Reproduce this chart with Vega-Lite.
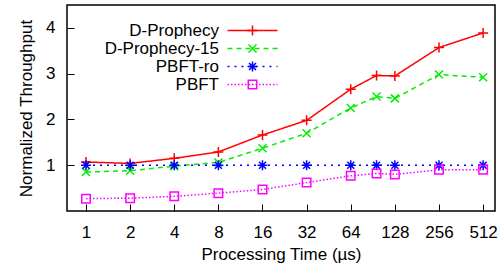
{
  "$schema": "https://vega.github.io/schema/vega-lite/v6.json",
  "width": 428,
  "height": 206,
  "autosize": "none",
  "padding": {"left": 67, "top": 5, "right": 5, "bottom": 56},
  "background": "white",
  "data": {"values": [
    {"t": 1, "series": "D-Prophecy", "marker": "D-Prophecy", "order": 0, "value": 1.07},
    {"t": 2, "series": "D-Prophecy", "marker": "D-Prophecy", "order": 0, "value": 1.04},
    {"t": 4, "series": "D-Prophecy", "marker": "D-Prophecy", "order": 0, "value": 1.15},
    {"t": 8, "series": "D-Prophecy", "marker": "D-Prophecy", "order": 0, "value": 1.29},
    {"t": 16, "series": "D-Prophecy", "marker": "D-Prophecy", "order": 0, "value": 1.66},
    {"t": 32, "series": "D-Prophecy", "marker": "D-Prophecy", "order": 0, "value": 1.98},
    {"t": 64, "series": "D-Prophecy", "marker": "D-Prophecy", "order": 0, "value": 2.66},
    {"t": 96, "series": "D-Prophecy", "marker": "D-Prophecy", "order": 0, "value": 2.96},
    {"t": 128, "series": "D-Prophecy", "marker": "D-Prophecy", "order": 0, "value": 2.95},
    {"t": 256, "series": "D-Prophecy", "marker": "D-Prophecy", "order": 0, "value": 3.57},
    {"t": 512, "series": "D-Prophecy", "marker": "D-Prophecy", "order": 0, "value": 3.89},
    {"t": 1, "series": "D-Prophecy-15", "marker": "D-Prophecy-15", "order": 1, "value": 0.85},
    {"t": 2, "series": "D-Prophecy-15", "marker": "D-Prophecy-15", "order": 1, "value": 0.88},
    {"t": 4, "series": "D-Prophecy-15", "marker": "D-Prophecy-15", "order": 1, "value": 0.98},
    {"t": 8, "series": "D-Prophecy-15", "marker": "D-Prophecy-15", "order": 1, "value": 1.06},
    {"t": 16, "series": "D-Prophecy-15", "marker": "D-Prophecy-15", "order": 1, "value": 1.37},
    {"t": 32, "series": "D-Prophecy-15", "marker": "D-Prophecy-15", "order": 1, "value": 1.70},
    {"t": 64, "series": "D-Prophecy-15", "marker": "D-Prophecy-15", "order": 1, "value": 2.25},
    {"t": 96, "series": "D-Prophecy-15", "marker": "D-Prophecy-15", "order": 1, "value": 2.50},
    {"t": 128, "series": "D-Prophecy-15", "marker": "D-Prophecy-15", "order": 1, "value": 2.46},
    {"t": 256, "series": "D-Prophecy-15", "marker": "D-Prophecy-15", "order": 1, "value": 2.98},
    {"t": 512, "series": "D-Prophecy-15", "marker": "D-Prophecy-15", "order": 1, "value": 2.92},
    {"t": 1, "series": "PBFT-ro", "marker": "PBFT-ro", "order": 2, "value": 1.0},
    {"t": 2, "series": "PBFT-ro", "marker": "PBFT-ro", "order": 2, "value": 1.0},
    {"t": 4, "series": "PBFT-ro", "marker": "PBFT-ro", "order": 2, "value": 1.0},
    {"t": 8, "series": "PBFT-ro", "marker": "PBFT-ro", "order": 2, "value": 1.0},
    {"t": 16, "series": "PBFT-ro", "marker": "PBFT-ro", "order": 2, "value": 1.0},
    {"t": 32, "series": "PBFT-ro", "marker": "PBFT-ro", "order": 2, "value": 1.0},
    {"t": 64, "series": "PBFT-ro", "marker": "PBFT-ro", "order": 2, "value": 1.0},
    {"t": 96, "series": "PBFT-ro", "marker": "PBFT-ro", "order": 2, "value": 1.0},
    {"t": 128, "series": "PBFT-ro", "marker": "PBFT-ro", "order": 2, "value": 1.0},
    {"t": 256, "series": "PBFT-ro", "marker": "PBFT-ro", "order": 2, "value": 1.0},
    {"t": 512, "series": "PBFT-ro", "marker": "PBFT-ro", "order": 2, "value": 1.0},
    {"t": 1, "series": "PBFT", "marker": "PBFT", "order": 3, "value": 0.27},
    {"t": 2, "series": "PBFT", "marker": "PBFT", "order": 3, "value": 0.28},
    {"t": 4, "series": "PBFT", "marker": "PBFT", "order": 3, "value": 0.32},
    {"t": 8, "series": "PBFT", "marker": "PBFT", "order": 3, "value": 0.39},
    {"t": 16, "series": "PBFT", "marker": "PBFT", "order": 3, "value": 0.47},
    {"t": 32, "series": "PBFT", "marker": "PBFT", "order": 3, "value": 0.62},
    {"t": 64, "series": "PBFT", "marker": "PBFT", "order": 3, "value": 0.77},
    {"t": 96, "series": "PBFT", "marker": "PBFT", "order": 3, "value": 0.82},
    {"t": 128, "series": "PBFT", "marker": "PBFT", "order": 3, "value": 0.80},
    {"t": 256, "series": "PBFT", "marker": "PBFT", "order": 3, "value": 0.90},
    {"t": 512, "series": "PBFT", "marker": "PBFT", "order": 3, "value": 0.90}
  ]},
  "encoding": {
    "x": {"field": "t", "type": "quantitative",
      "scale": {"type": "log", "base": 2, "domain": [0.742, 617], "nice": false},
      "axis": {"values": [1, 2, 4, 8, 16, 32, 64, 128, 256, 512], "format": "d", "title": "Processing Time (µs)", "labelPadding": 20, "titlePadding": 6}},
    "y": {"field": "value", "type": "quantitative",
      "scale": {"domain": [0, 4.5], "nice": false, "zero": false},
      "axis": {"values": [1, 2, 3, 4], "title": "Normalized Throughput", "labelPadding": 19, "titlePadding": 10}}
  },
  "layer": [
    {
      "mark": {"type": "line", "strokeWidth": 1.5},
      "encoding": {
        "color": {"field": "series", "type": "nominal",
          "scale": {"domain": ["D-Prophecy", "D-Prophecy-15", "PBFT-ro", "PBFT"], "range": ["#ff0000", "#00ee00", "#0000ff", "#ff00ff"]},
          "legend": {"orient": "none", "legendX": 177, "legendY": 17, "title": null, "symbolType": "M-5,0L5,0", "symbolSize": 100, "symbolStrokeWidth": 1.5, "labelAlign": "right", "labelOffset": -42, "labelFontSize": 17, "labelColor": "black", "rowPadding": 0, "padding": 0}},
        "strokeDash": {"field": "series", "type": "nominal",
          "scale": {"domain": ["D-Prophecy", "D-Prophecy-15", "PBFT-ro", "PBFT"], "range": [[1, 0], [5, 4], [2, 5], [1.5, 2]]},
          "legend": {"orient": "none", "legendX": 177, "legendY": 17, "title": null, "symbolType": "M-5,0L5,0", "symbolSize": 100, "symbolStrokeWidth": 1.5, "labelAlign": "right", "labelOffset": -42, "labelFontSize": 17, "labelColor": "black", "rowPadding": 0, "padding": 0}}
      }
    },
    {
      "mark": {"type": "point", "filled": false, "strokeWidth": 1.5, "size": 100, "opacity": 1},
      "encoding": {
        "stroke": {"field": "marker", "type": "nominal", "sort": {"field": "order", "op": "min"},
          "scale": {"range": ["#ff0000", "#00ee00", "#0000ff", "#ff00ff"]},
          "legend": {"orient": "none", "legendX": 177, "legendY": 17, "title": null, "symbolSize": 100, "symbolStrokeWidth": 1.5, "symbolFillColor": "transparent", "labelColor": "transparent", "labelFontSize": 17, "rowPadding": 0, "padding": 0}},
        "shape": {"field": "marker", "type": "nominal", "sort": {"field": "order", "op": "min"},
          "scale": {"range": ["M-1,0L1,0M0,-1L0,1", "M-0.8,-0.8L0.8,0.8M-0.8,0.8L0.8,-0.8", "M-1,0L1,0M0,-1L0,1M-0.7,-0.7L0.7,0.7M-0.7,0.7L0.7,-0.7", "M-0.85,-0.85L0.85,-0.85L0.85,0.85L-0.85,0.85Z"]},
          "legend": {"orient": "none", "legendX": 177, "legendY": 17, "title": null, "symbolSize": 100, "symbolStrokeWidth": 1.5, "symbolFillColor": "transparent", "labelColor": "transparent", "labelFontSize": 17, "rowPadding": 0, "padding": 0}}
      }
    }
  ],
  "config": {
    "font": "Liberation Sans",
    "view": {"stroke": "black", "strokeWidth": 1.5},
    "axis": {"domain": false, "grid": false, "tickColor": "black", "tickSize": -7, "tickWidth": 1, "labelFontSize": 17, "titleFontSize": 17, "titleFontWeight": "normal", "labelColor": "black", "titleColor": "black"}
  }
}
